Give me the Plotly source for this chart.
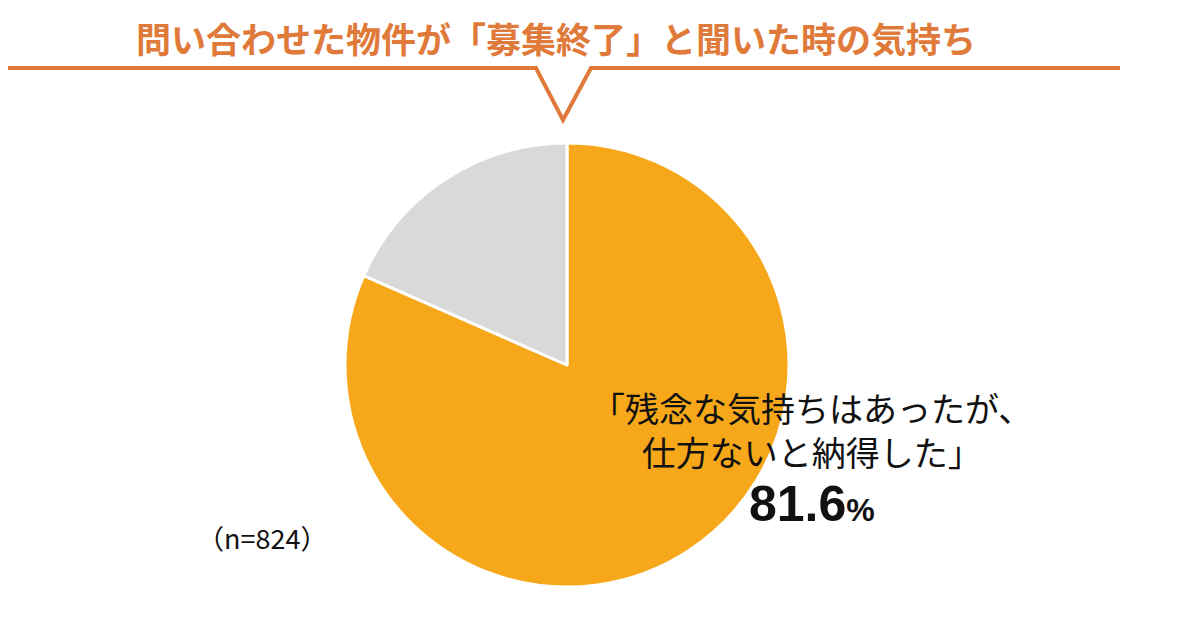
import plotly.graph_objects as go

labels = ["残念な気持ちはあったが、仕方ないと納得した", "その他"]
values = [81.6, 18.4]
colors = ["#F6A81A", "#D9D9D9"]
title_text = "問い合わせた物件が「募集終了」と聞いた時の気持ち"
n_text = "（n=824）"

W, H = 1200, 641
OFF = 8  # page body margin compensation


def fx(x):
    return (x - OFF) / W


def fy(y):
    return 1 - (y - OFF) / H


fig = go.Figure()
fig.add_trace(go.Pie(
    labels=labels, values=values, sort=False, direction="clockwise", rotation=0,
    marker=dict(colors=colors, line=dict(color="white", width=3)),
    textinfo="none", hoverinfo="label+percent", showlegend=False,
    domain=dict(x=[fx(345), fx(789)], y=[fy(587), fy(143)]),
))

font_jp = "Noto Sans CJK JP"

fig.add_annotation(x=fx(556), y=fy(38), xref="paper", yref="paper", text="<b>" + title_text + "</b>",
                   showarrow=False, font=dict(family=font_jp, size=35, color="#E07A3A"),
                   xanchor="center", yanchor="middle")
fig.add_annotation(x=fx(811), y=fy(429), xref="paper", yref="paper",
                   text="「" + labels[0][:12] + "<br>" + labels[0][12:] + "」",
                   showarrow=False, align="center",
                   font=dict(family=font_jp, size=34, color="#111111"),
                   xanchor="center", yanchor="middle")
fig.add_annotation(x=fx(812), y=fy(504), xref="paper", yref="paper",
                   text="<b>%.1f</b><span style='font-size:32px'><b>%%</b></span>" % values[0],
                   showarrow=False, font=dict(family="Liberation Sans", size=50, color="#111111"),
                   xanchor="center", yanchor="middle")
fig.add_annotation(x=fx(262), y=fy(537), xref="paper", yref="paper", text=n_text,
                   showarrow=False, font=dict(family=font_jp, size=27, color="#111111"),
                   xanchor="center", yanchor="middle")


def px(x, y):
    return "%.4f,%.4f" % (fx(x), fy(y))


path = "M " + px(5, 68) + " L " + px(536, 68) + " L " + px(563, 120) + " L " + px(591, 68) + " L " + px(1120, 68)
fig.add_shape(type="path", xref="paper", yref="paper", path=path,
              line=dict(color="#E07A3A", width=4))

fig.update_layout(width=W, height=H, margin=dict(l=0, r=0, t=0, b=0),
                  paper_bgcolor="white", plot_bgcolor="white")
fig.write_html("out.html")
